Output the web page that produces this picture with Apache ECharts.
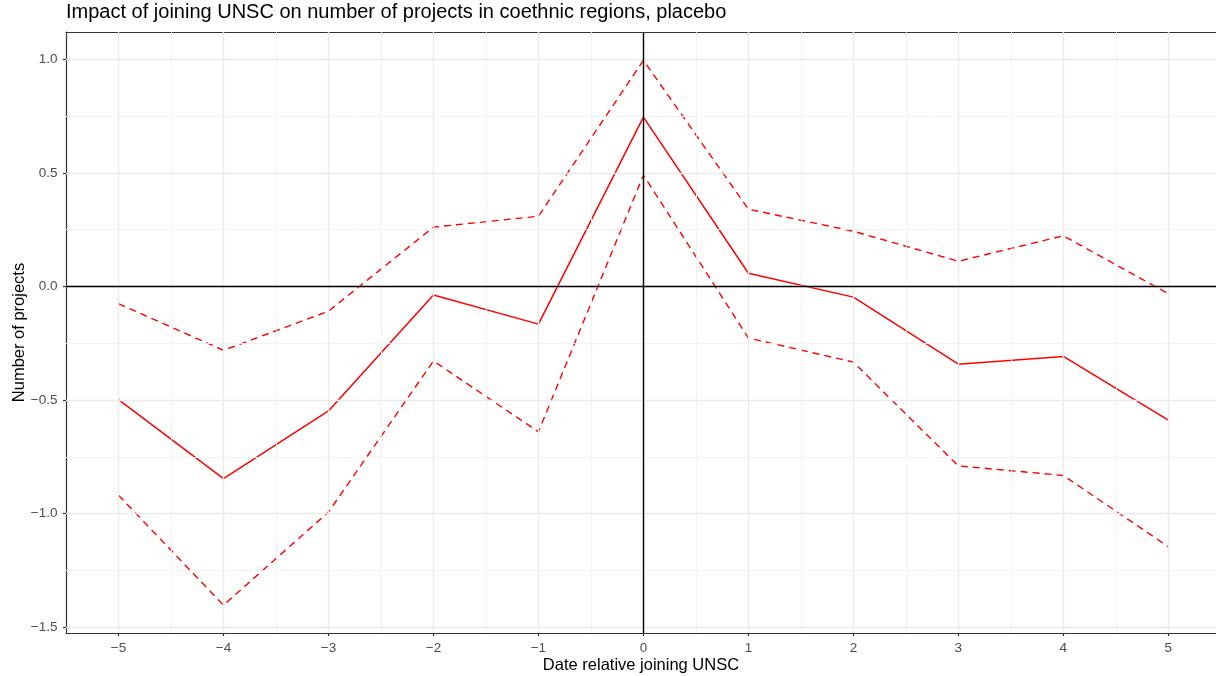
<!DOCTYPE html>
<html>
<head>
<meta charset="utf-8">
<script src="https://cdn.jsdelivr.net/npm/echarts@6/dist/echarts.min.js"></script>
<style>
html,body{margin:0;padding:0;background:#fff;}
#chart{width:1216px;height:676px;}
</style>
</head>
<body>
<div id="chart"></div>
<script>
// ---- data ----
const periods = [-5, -4, -3, -2, -1, 0, 1, 2, 3, 4, 5];
const estimate = [-0.498, -0.846, -0.548, -0.038, -0.166, 0.745, 0.058, -0.047, -0.342, -0.308, -0.588];
const upperCI = [-0.076, -0.281, -0.109, 0.261, 0.309, 0.995, 0.340, 0.243, 0.111, 0.223, -0.032];
const lowerCI = [-0.919, -1.403, -0.993, -0.328, -0.640, 0.490, -0.227, -0.333, -0.790, -0.832, -1.146];
const xTicks = [-5, -4, -3, -2, -1, 0, 1, 2, 3, 4, 5];
const yTicks = [-1.5, -1.0, -0.5, 0.0, 0.5, 1.0];
const titleText = 'Impact of joining UNSC on number of projects in coethnic regions, placebo';
const xTitle = 'Date relative joining UNSC';
const yTitle = 'Number of projects';

// ---- build ----
const FONT = 'Liberation Sans, Arial, sans-serif';
const X_MIN = -5.5, X_MAX = 5.454, Y_MIN = -1.5255, Y_MAX = 1.12;
const minus = s => String(s).replace('-', '\u2212');
const xMinor = xTicks.slice(0, -1).map((v, i) => (v + xTicks[i + 1]) / 2);
const yMinor = yTicks.slice(0, -1).map((v, i) => (v + yTicks[i + 1]) / 2);
const majorStyle = {color: '#ebebeb', width: 1.4, type: 'solid'};
const minorStyle = {color: '#f2f2f2', width: 0.9, type: 'solid'};
const gridLines = []
  .concat(xMinor.map(v => ({xAxis: v, lineStyle: minorStyle})))
  .concat(yMinor.map(v => ({yAxis: v, lineStyle: minorStyle})))
  .concat(xTicks.map(v => ({xAxis: v, lineStyle: majorStyle})))
  .concat(yTicks.map(v => ({yAxis: v, lineStyle: majorStyle})));
const pairs = arr => periods.map((p, i) => [p, arr[i]]);

const chart = echarts.init(document.getElementById('chart'), null, {renderer: 'canvas'});
chart.setOption({
  animation: false,
  backgroundColor: '#fff',
  title: {
    text: titleText, left: 66, top: 2, padding: 0,
    textStyle: {fontFamily: FONT, fontSize: 20, fontWeight: 'normal', color: '#000'}
  },
  grid: {
    left: 66, top: 32, right: 0, bottom: 43, show: false,
    containLabel: false, outerBoundsMode: 'none'
  },
  xAxis: [{
    type: 'value', min: X_MIN, max: X_MAX,
    name: xTitle, nameLocation: 'middle', nameGap: 24, nameMoveOverlap: false,
    nameTextStyle: {fontFamily: FONT, fontSize: 16.5, color: '#000'},
    axisLine: {show: true, onZero: false, lineStyle: {color: '#333', width: 1.2}},
    axisTick: {show: true, length: 3, customValues: xTicks, lineStyle: {color: '#333', width: 1.2}},
    axisLabel: {customValues: xTicks, margin: 8, fontFamily: FONT, fontSize: 13.5, color: '#4d4d4d',
      formatter: v => minus(v)},
    splitLine: {show: false}
  }, {
    type: 'value', min: X_MIN, max: X_MAX, position: 'top',
    axisLine: {show: true, onZero: false, lineStyle: {color: '#333', width: 1.2}},
    axisTick: {show: false}, axisLabel: {show: false}, splitLine: {show: false}
  }],
  yAxis: {
    type: 'value', min: Y_MIN, max: Y_MAX,
    name: yTitle, nameLocation: 'middle', nameGap: 38, nameRotate: 90, nameMoveOverlap: false,
    nameTextStyle: {fontFamily: FONT, fontSize: 16.5, color: '#000'},
    axisLine: {show: true, onZero: false, lineStyle: {color: '#333', width: 1.2}},
    axisTick: {show: true, length: 3, customValues: yTicks, lineStyle: {color: '#333', width: 1.2}},
    axisLabel: {customValues: yTicks, margin: 8.5, fontFamily: FONT, fontSize: 13.5, color: '#4d4d4d',
      formatter: v => minus(Number(v).toFixed(1))},
    splitLine: {show: false}
  },
  series: [
    {
      type: 'line', data: [], z: 1, silent: true,
      markLine: {silent: true, symbol: ['none', 'none'], label: {show: false}, animation: false,
        data: gridLines}
    },
    {
      type: 'line', data: [], z: 2, silent: true,
      markLine: {silent: true, symbol: ['none', 'none'], label: {show: false}, animation: false,
        lineStyle: {color: '#000', width: 1.4, type: 'solid'},
        data: [{xAxis: 0}, {yAxis: 0}]}
    },
    {type: 'line', data: pairs(upperCI), z: 3, symbol: 'none', silent: true,
      lineStyle: {color: '#ff0000', width: 1.4, type: [7, 5]}},
    {type: 'line', data: pairs(lowerCI), z: 3, symbol: 'none', silent: true,
      lineStyle: {color: '#ff0000', width: 1.4, type: [7, 5]}},
    {type: 'line', data: pairs(estimate), z: 4, symbol: 'none', silent: true,
      lineStyle: {color: '#ff0000', width: 1.5, type: 'solid'}}
  ]
});
</script>
</body>
</html>
